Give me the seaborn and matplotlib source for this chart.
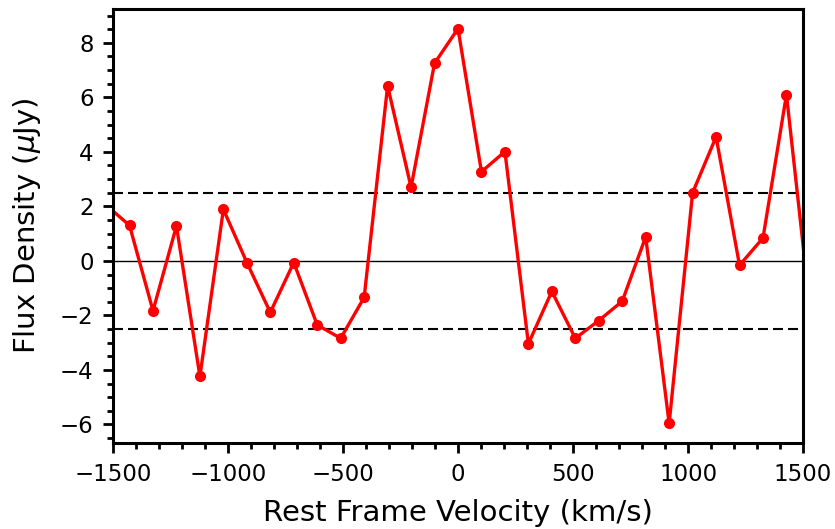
import matplotlib
matplotlib.use("Agg")
import matplotlib.pyplot as plt
from matplotlib.ticker import MultipleLocator
import seaborn as sns
import pandas as pd

# Spectral channels (rest-frame velocity, km/s) and measured flux density (uJy)
velocity = [-1530, -1428, -1326, -1224, -1122, -1020, -918, -816, -714, -612,
            -510, -408, -306, -204, -102, 0, 102, 204, 306, 408,
            510, 612, 714, 816, 918, 1020, 1122, 1224, 1326, 1428, 1530]
flux = [2.05, 1.30, -1.83, 1.28, -4.24, 1.89, -0.06, -1.89, -0.06, -2.35,
        -2.84, -1.34, 6.42, 2.70, 7.25, 8.52, 3.27, 4.01, -3.04, -1.12,
        -2.84, -2.19, -1.48, 0.88, -5.96, 2.50, 4.55, -0.16, 0.84, 6.10, -1.70]
rms_level = 2.5

df = pd.DataFrame({"velocity": velocity, "flux": flux})

sns.set_style("white")
plt.rcParams.update({
    "font.family": ["DejaVu Sans"],
    "text.color": "black",
    "axes.labelcolor": "black",
    "xtick.color": "black",
    "ytick.color": "black",
})

fig, ax = plt.subplots(figsize=(8.35, 5.29), dpi=100)
fig.subplots_adjust(left=0.1353, right=0.9617, top=0.983, bottom=0.1626)

sns.lineplot(data=df, x="velocity", y="flux", ax=ax, color="red",
             marker="o", markersize=8, markeredgewidth=0,
             linewidth=2.4, sort=False)

ax.axhline(0, color="black", linewidth=1.0, zorder=1)
for lvl in (rms_level, -rms_level):
    ax.axhline(lvl, color="black", linewidth=1.5, linestyle=(0, (4.8, 2.4)), zorder=1)

ax.set_xlim(-1500, 1500)
ax.set_ylim(-6.68, 9.24)

ax.xaxis.set_major_locator(MultipleLocator(500))
ax.xaxis.set_minor_locator(MultipleLocator(100))
ax.yaxis.set_major_locator(MultipleLocator(2))
ax.yaxis.set_minor_locator(MultipleLocator(0.5))
ax.tick_params(which="both", direction="out", bottom=True, left=True,
               top=False, right=False, width=2, labelsize=16.5)
ax.tick_params(which="major", length=7.5)
ax.tick_params(which="minor", length=4)
ax.tick_params(axis="x", which="major", pad=7)
ax.tick_params(axis="y", which="major", pad=6.5)

for s in ax.spines.values():
    s.set_linewidth(2.2)
    s.set_color("black")

ax.set_xlabel("Rest Frame Velocity (km/s)", fontsize=21, labelpad=9)
ax.set_ylabel(r"Flux Density ($\mu$Jy)", fontsize=21, labelpad=12)

fig.savefig("out.png", dpi=100)
